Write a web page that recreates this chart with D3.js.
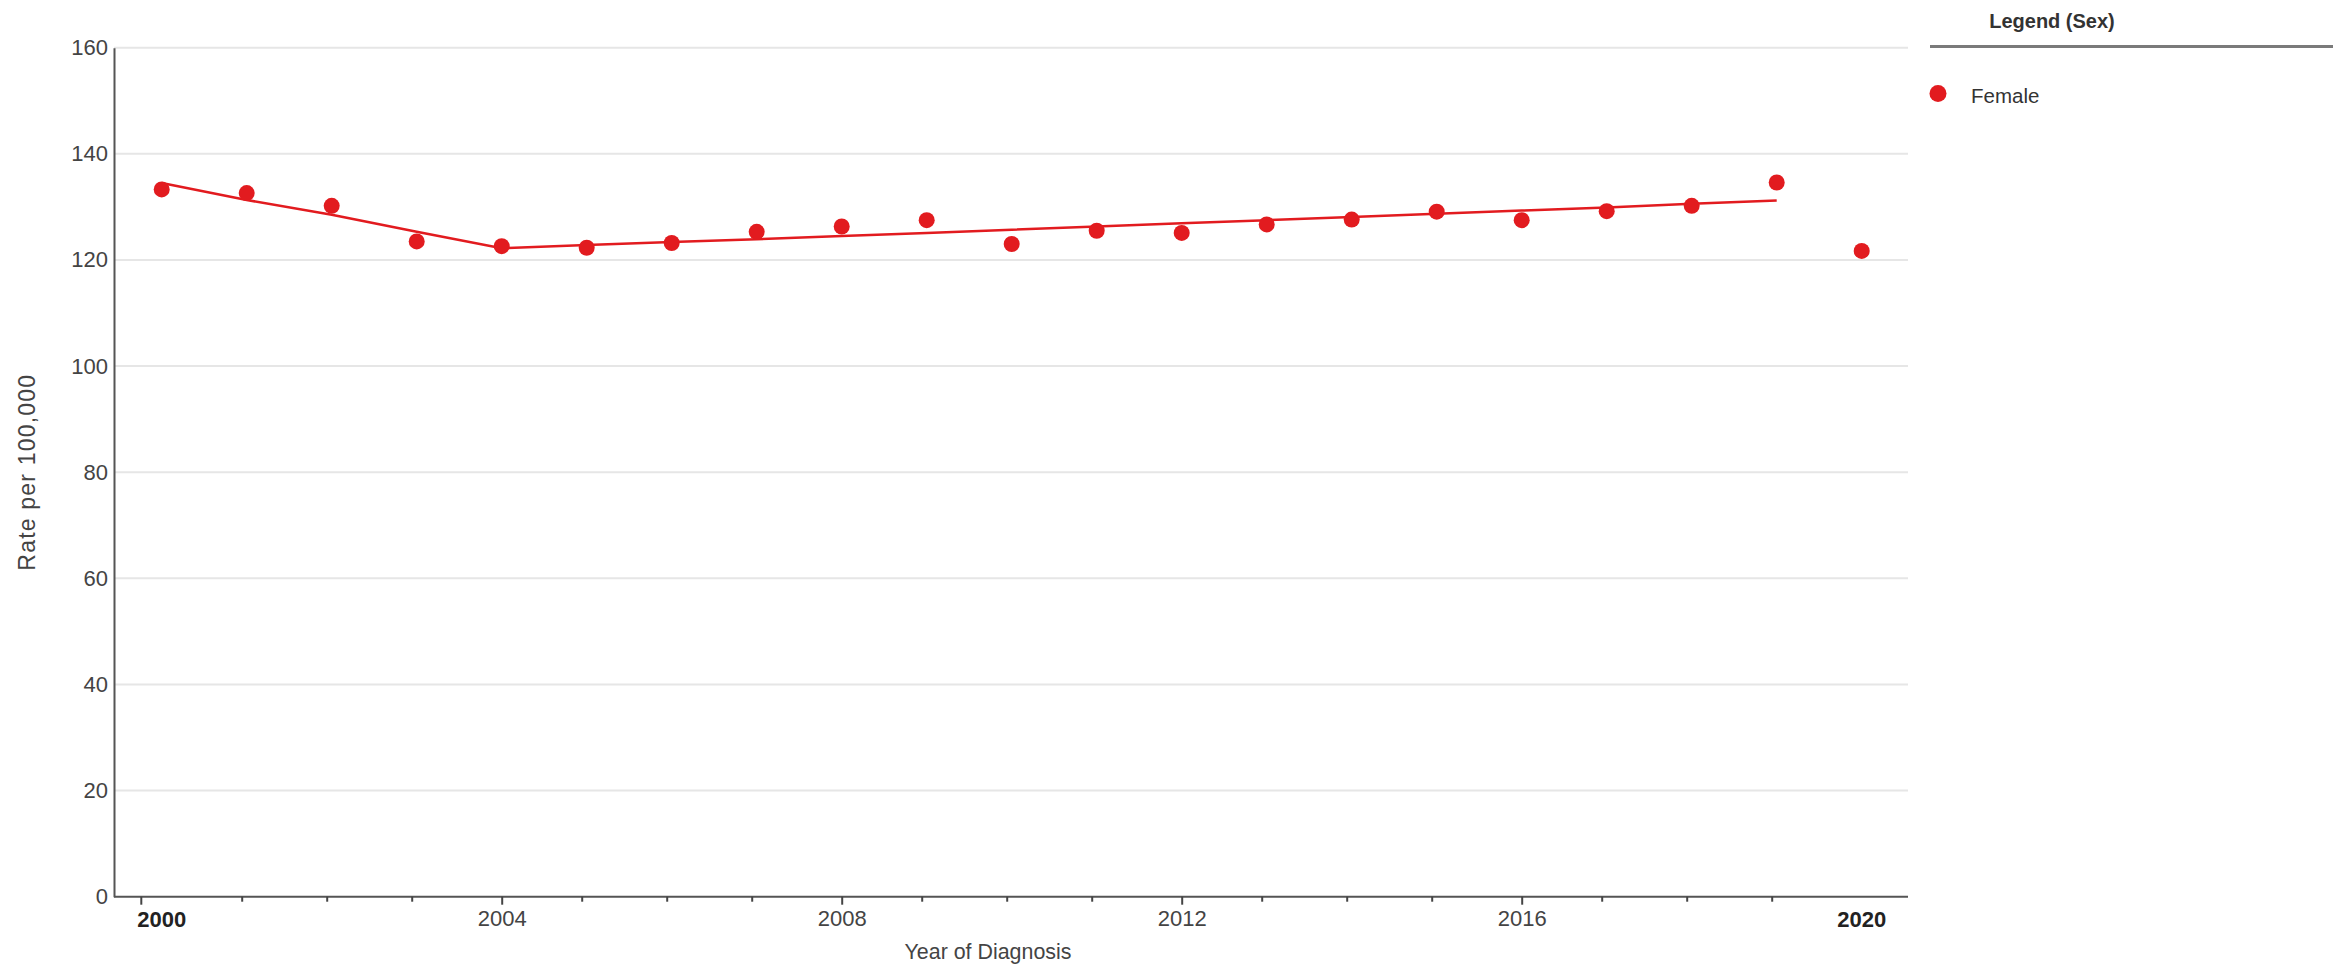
<!DOCTYPE html>
<html>
<head>
<meta charset="utf-8">
<script src="https://cdn.jsdelivr.net/npm/d3@7/dist/d3.min.js"></script>
<style>
  html, body { margin: 0; padding: 0; background: #fff; }
  svg { display: block; font-family: "Liberation Sans", Arial, sans-serif; }
</style>
</head>
<body>
<svg id="chart" width="2346" height="970"></svg>
<script>
// Observed rates (per 100,000) by year of diagnosis, female
const years = [2000, 2001, 2002, 2003, 2004, 2005, 2006, 2007, 2008, 2009, 2010,
               2011, 2012, 2013, 2014, 2015, 2016, 2017, 2018, 2019, 2020];
const observed = [133.3, 132.6, 130.2, 123.5, 122.6, 122.3, 123.2, 125.3, 126.3, 127.5, 123.0,
                  125.5, 125.1, 126.7, 127.6, 129.1, 127.5, 129.2, 130.2, 134.6, 121.7];

// Modeled trend (joinpoint fit), 2000-2019
const trendYears = [2000, 2001, 2002, 2003, 2004, 2005, 2006, 2007, 2008, 2009,
                    2010, 2011, 2012, 2013, 2014, 2015, 2016, 2017, 2018, 2019];
const trend = [134.5, 131.3, 128.5, 125.3, 122.2, 122.8, 123.4, 123.9, 124.5, 125.1,
               125.7, 126.3, 126.9, 127.5, 128.1, 128.7, 129.3, 129.9, 130.6, 131.2];

const yTicks = [0, 20, 40, 60, 80, 100, 120, 140, 160];
const xMajorTicks = [2004, 2008, 2012, 2016];
const xBoldTicks = [2000, 2020];
const xMinorTicks = [2001, 2002, 2003, 2005, 2006, 2007, 2009, 2010, 2011,
                     2013, 2014, 2015, 2017, 2018, 2019];
const legendItems = ["Female"];

const red = "#e21b1f";
const svg = d3.select("#chart");

const x = d3.scaleLinear().domain([2000, 2020]).range([161.7, 1861.7]);
const y = d3.scaleLinear().domain([0, 160]).range([896.7, 47.7]);
const plotLeft = 114, plotRight = 1908;

// horizontal gridlines
svg.append("g").selectAll("line").data(yTicks.filter(d => d > 0)).join("line")
  .attr("x1", plotLeft).attr("x2", plotRight)
  .attr("y1", d => y(d)).attr("y2", d => y(d))
  .attr("stroke", "#e6e6e6").attr("stroke-width", 2);

// y axis
const yAxis = d3.axisLeft(y).tickValues(yTicks).tickSize(0).tickPadding(6);
const gy = svg.append("g").attr("transform", `translate(${plotLeft},0)`).call(yAxis);
gy.select(".domain").attr("stroke", "#555").attr("stroke-width", 2);
gy.selectAll("text").attr("font-size", 22).attr("fill", "#444")
  .attr("font-family", "Liberation Sans, Arial, sans-serif");

// x axis baseline
svg.append("line")
  .attr("x1", plotLeft).attr("x2", plotRight)
  .attr("y1", y(0)).attr("y2", y(0))
  .attr("stroke", "#555").attr("stroke-width", 2);

// major ticks with labels
const gx = svg.append("g").attr("transform", `translate(0,${y(0)})`)
  .call(d3.axisBottom(x).tickValues(xMajorTicks).tickFormat(d3.format("d")).tickSize(8).tickPadding(6));
gx.select(".domain").remove();
gx.selectAll("line").attr("stroke", "#444").attr("stroke-width", 2);
gx.selectAll("text").attr("font-size", 22).attr("fill", "#444")
  .attr("font-family", "Liberation Sans, Arial, sans-serif");

// minor ticks
svg.append("g").attr("transform", `translate(-4.5,${y(0)})`)
  .selectAll("line").data(xMinorTicks).join("line")
  .attr("x1", d => x(d)).attr("x2", d => x(d))
  .attr("y1", 0).attr("y2", 5)
  .attr("stroke", "#444").attr("stroke-width", 2);

// edge tick at the start of the axis
svg.append("line")
  .attr("x1", x(1999.76)).attr("x2", x(1999.76))
  .attr("y1", y(0)).attr("y2", y(0) + 8)
  .attr("stroke", "#444").attr("stroke-width", 2);

// bold end labels
svg.append("g").selectAll("text").data(xBoldTicks).join("text")
  .attr("x", d => x(d)).attr("y", 927)
  .attr("text-anchor", "middle")
  .attr("font-size", 22).attr("font-weight", "bold").attr("fill", "#222")
  .text(d => d);

// axis titles
svg.append("text")
  .attr("x", 988).attr("y", 959)
  .attr("text-anchor", "middle").attr("font-size", 21.4).attr("fill", "#444")
  .text("Year of Diagnosis");

svg.append("text")
  .attr("transform", `translate(35,${(y(0) + y(160)) / 2}) rotate(-90)`)
  .attr("text-anchor", "middle").attr("font-size", 23).attr("letter-spacing", 1.2)
  .attr("fill", "#444")
  .text("Rate per 100,000");

// trend line
const line = d3.line().x(d => x(d[0])).y(d => y(d[1]));
svg.append("path")
  .datum(trendYears.map((yr, i) => [yr, trend[i]]))
  .attr("d", line)
  .attr("fill", "none").attr("stroke", red).attr("stroke-width", 2.5);

// observed points
svg.append("g").selectAll("circle").data(years.map((yr, i) => [yr, observed[i]])).join("circle")
  .attr("cx", d => x(d[0])).attr("cy", d => y(d[1]))
  .attr("r", 8).attr("fill", red);

// legend
const lg = svg.append("g");
lg.append("text")
  .attr("x", 2052).attr("y", 28)
  .attr("text-anchor", "middle").attr("font-size", 20).attr("font-weight", "bold").attr("fill", "#333")
  .text("Legend (Sex)");
lg.append("line")
  .attr("x1", 1930).attr("x2", 2333).attr("y1", 46.5).attr("y2", 46.5)
  .attr("stroke", "#7a7a7a").attr("stroke-width", 3);
const li = lg.selectAll("g.item").data(legendItems).join("g").attr("class", "item")
  .attr("transform", (d, i) => `translate(0,${93.5 + i * 40})`);
li.append("circle").attr("cx", 1938).attr("cy", 0).attr("r", 8.5).attr("fill", red);
li.append("text").attr("x", 1971).attr("y", 9)
  .attr("font-size", 20.5).attr("fill", "#333").text(d => d);
</script>
</body>
</html>
